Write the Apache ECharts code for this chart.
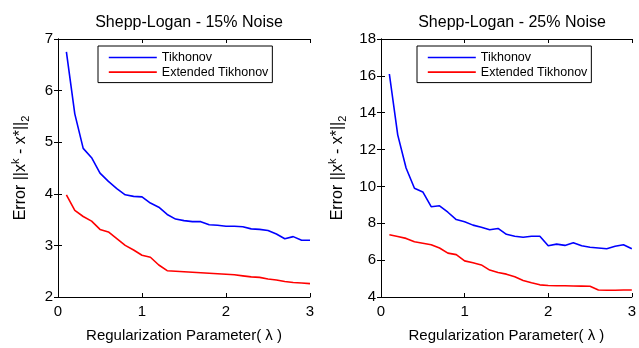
<!DOCTYPE html>
<html>
<head>
<meta charset="utf-8">
<script src="https://cdn.jsdelivr.net/npm/echarts@6/dist/echarts.min.js"></script>
<style>html,body{margin:0;padding:0;background:#fff}#c{width:639px;height:348px}</style>
</head>
<body>
<div id="c"></div>
<script>
const lambdas = [0.1,0.2,0.3,0.4,0.5,0.6,0.7,0.8,0.9,1.0,1.1,1.2,1.3,1.4,1.5,1.6,1.7,1.8,1.9,2.0,2.1,2.2,2.3,2.4,2.5,2.6,2.7,2.8,2.9,3.0];
const tik15 = [6.75,5.55,4.88,4.70,4.40,4.24,4.10,3.98,3.95,3.94,3.82,3.74,3.60,3.51,3.48,3.46,3.46,3.40,3.39,3.37,3.37,3.36,3.32,3.31,3.29,3.22,3.13,3.17,3.10,3.10];
const ext15 = [3.98,3.68,3.56,3.47,3.31,3.26,3.13,3.00,2.91,2.81,2.77,2.62,2.51,2.50,2.49,2.48,2.47,2.46,2.45,2.44,2.43,2.41,2.39,2.38,2.35,2.33,2.30,2.28,2.27,2.26];
const tik25 = [16.1,12.8,11.0,9.9,9.7,8.9,8.95,8.6,8.2,8.08,7.9,7.78,7.65,7.72,7.4,7.3,7.24,7.3,7.3,6.78,6.87,6.8,6.95,6.78,6.7,6.66,6.62,6.75,6.84,6.62];
const ext25 = [7.38,7.28,7.18,7.0,6.92,6.84,6.66,6.38,6.30,5.96,5.86,5.74,5.46,5.33,5.24,5.10,4.90,4.77,4.66,4.62,4.61,4.61,4.60,4.59,4.58,4.38,4.37,4.37,4.38,4.38];
const titles = ['Shepp-Logan - 15% Noise','Shepp-Logan - 25% Noise'];
const seriesNames = ['Tikhonov','Extended Tikhonov'];
const xName = 'Regularization Parameter( λ )';

const FONT = 'Liberation Sans, Arial, sans-serif';
const AX = '#000';
const pair = arr => lambdas.map((x,i)=>[x,arr[i]]);

const grids = [
  {left:58, top:39, width:252, height:261},
  {left:381, top:39, width:253, height:262}
];
const yRanges = [{min:2,max:7,interval:1},{min:4,max:18,interval:2}];

const xAxis = [], yAxis = [];
grids.forEach((g,i)=>{
  xAxis.push({type:'value', gridIndex:i, min:0, max:3, interval:1, position:'bottom',
    name:xName, nameLocation:'middle', nameGap:31,
    nameTextStyle:{fontFamily:FONT, fontSize:15, color:'#000'},
    axisLine:{lineStyle:{color:AX,width:1}}, axisTick:{inside:true,length:4,lineStyle:{color:AX}},
    axisLabel:{fontFamily:FONT, fontSize:15, color:'#000', margin:7}, splitLine:{show:false}});
  xAxis.push({type:'value', gridIndex:i, min:0, max:3, interval:1, position:'top',
    axisLine:{lineStyle:{color:AX,width:1}}, axisTick:{inside:true,length:4,lineStyle:{color:AX}},
    axisLabel:{show:false}, splitLine:{show:false}});
  yAxis.push(Object.assign({type:'value', gridIndex:i, position:'left',
    name:'{n|Error ||x}{sup|k}{n| - x*||}{sub|2}', nameLocation:'middle', nameGap:i===0?26:32, nameRotate:90,
    nameTextStyle:{fontFamily:FONT, fontSize:16, color:'#000',
      rich:{n:{fontFamily:FONT,fontSize:16,color:'#000'},
            sup:{fontFamily:FONT,fontSize:11,color:'#000',padding:[0,0,11,0]},
            sub:{fontFamily:FONT,fontSize:11,color:'#000',padding:[9,0,0,0]}}},
    axisLine:{lineStyle:{color:AX,width:1}}, axisTick:{inside:true,length:4,lineStyle:{color:AX}},
    axisLabel:{fontFamily:FONT, fontSize:15, color:'#000', margin:5}, splitLine:{show:false}}, yRanges[i]));
  yAxis.push(Object.assign({type:'value', gridIndex:i, position:'right',
    axisLine:{lineStyle:{color:AX,width:1}}, axisTick:{inside:true,length:4,lineStyle:{color:AX}},
    axisLabel:{show:false}, splitLine:{show:false}}, yRanges[i]));
});

const mk = (name, data, gi, color) => ({type:'line', name, data:pair(data), xAxisIndex:gi*2, yAxisIndex:gi*2,
  symbol:'none', showSymbol:false, lineStyle:{color, width:1.6}, itemStyle:{color}, animation:false, silent:true});

const legendBase = {orient:'vertical', data:seriesNames,
  itemWidth:48, itemHeight:14, itemGap:1.6, backgroundColor:'#fff', borderColor:'#000', borderWidth:1,
  padding:[5,4,4,10], itemStyle:{opacity:0}, lineStyle:{width:1.6},
  textStyle:{fontFamily:FONT, fontSize:12.5, color:'#000', padding:[0,0,0,0]}};

const chart = echarts.init(document.getElementById('c'), null, {renderer:'canvas'});
chart.setOption({
  animation:false,
  backgroundColor:'#fff',
  title: titles.map((t,i)=>({text:t, left: i===0?184:507, top:10, textAlign:'center',
    textStyle:{fontFamily:FONT, fontSize:16, fontWeight:'normal', color:'#000'}})),
  grid: grids,
  xAxis, yAxis,
  legend:[Object.assign({left:98, top:46}, legendBase), Object.assign({left:417, top:46}, legendBase)],
  series:[mk(seriesNames[0],tik15,0,'#0000ff'), mk(seriesNames[1],ext15,0,'#ff0000'),
          mk(seriesNames[0],tik25,1,'#0000ff'), mk(seriesNames[1],ext25,1,'#ff0000')]
});
</script>
</body>
</html>
